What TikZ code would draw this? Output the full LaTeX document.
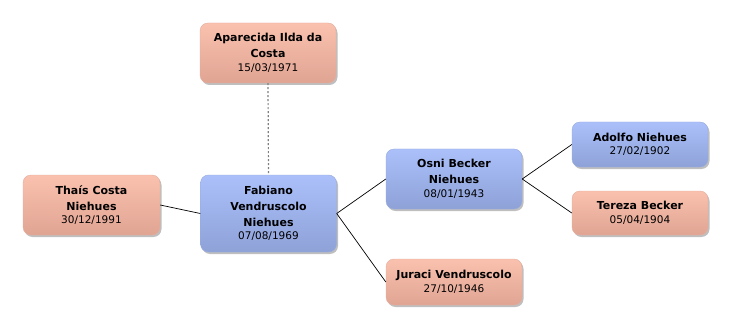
\documentclass[tikz,border=0pt]{standalone}
\usepackage{fontspec}
\setmainfont{DejaVu Sans}
\usetikzlibrary{shadows}
\definecolor{bluetop}{HTML}{ABC0FA}
\definecolor{bluebot}{HTML}{8EA2D8}
\definecolor{saltop}{HTML}{FAC2AE}
\definecolor{salbot}{HTML}{E0A493}
\tikzset{
  person/.style={rounded corners=8pt, minimum width=136pt, align=center, inner sep=2pt,
    font=\fontsize{11}{16}\selectfont,
    drop shadow={shadow xshift=1.5pt, shadow yshift=-2pt, opacity=0.25, fill=black}},
  male/.style={person, top color=bluetop, bottom color=bluebot, draw=bluebot!90!white},
  female/.style={person, top color=saltop, bottom color=salbot, draw=salbot!90!white},
  link/.style={draw=black, line width=0.7pt},
  spouse/.style={draw=gray, line width=1.2pt, dash pattern=on 2pt off 2pt}
}
\newcommand{\nm}[1]{{\bfseries #1}}
\newcommand{\dt}[1]{{\fontsize{10.5}{16}\selectfont #1}}
\begin{document}
\begin{tikzpicture}[x=1pt,y=-1pt]
\useasboundingbox (0,0) rectangle (732,329);
\node[female, minimum height=60pt] (apa) at (268,53) {\nm{Aparecida Ilda da}\\\nm{Costa}\\[-2.5pt]\dt{15/03/1971}};
\node[male, minimum height=77pt] (fab) at (268.5,213.5) {\nm{Fabiano}\\\nm{Vendruscolo}\\\nm{Niehues}\\[-2.5pt]\dt{07/08/1969}};
\node[female, minimum height=60pt, minimum width=137pt] (tha) at (91.5,205) {\nm{Thaís Costa}\\\nm{Niehues}\\[-2.5pt]\dt{30/12/1991}};
\node[male, minimum height=60pt] (osn) at (454,179) {\nm{Osni Becker}\\\nm{Niehues}\\[-2.5pt]\dt{08/01/1943}};
\node[female, minimum height=46pt] (jur) at (454,282) {\nm{Juraci Vendruscolo}\\[-2.5pt]\dt{27/10/1946}};
\node[male, minimum height=45pt] (ado) at (640,144.5) {\nm{Adolfo Niehues}\\[-2.5pt]\dt{27/02/1902}};
\node[female, minimum height=44pt] (ter) at (640,213) {\nm{Tereza Becker}\\[-2.5pt]\dt{05/04/1904}};
\draw[spouse] (apa.south) -- (fab.north);
\draw[link] (tha.east) -- (fab.west);
\draw[link] (fab.east) -- (osn.west);
\draw[link] (fab.east) -- (jur.west);
\draw[link] (osn.east) -- (ado.west);
\draw[link] (osn.east) -- (ter.west);
\end{tikzpicture}
\end{document}
